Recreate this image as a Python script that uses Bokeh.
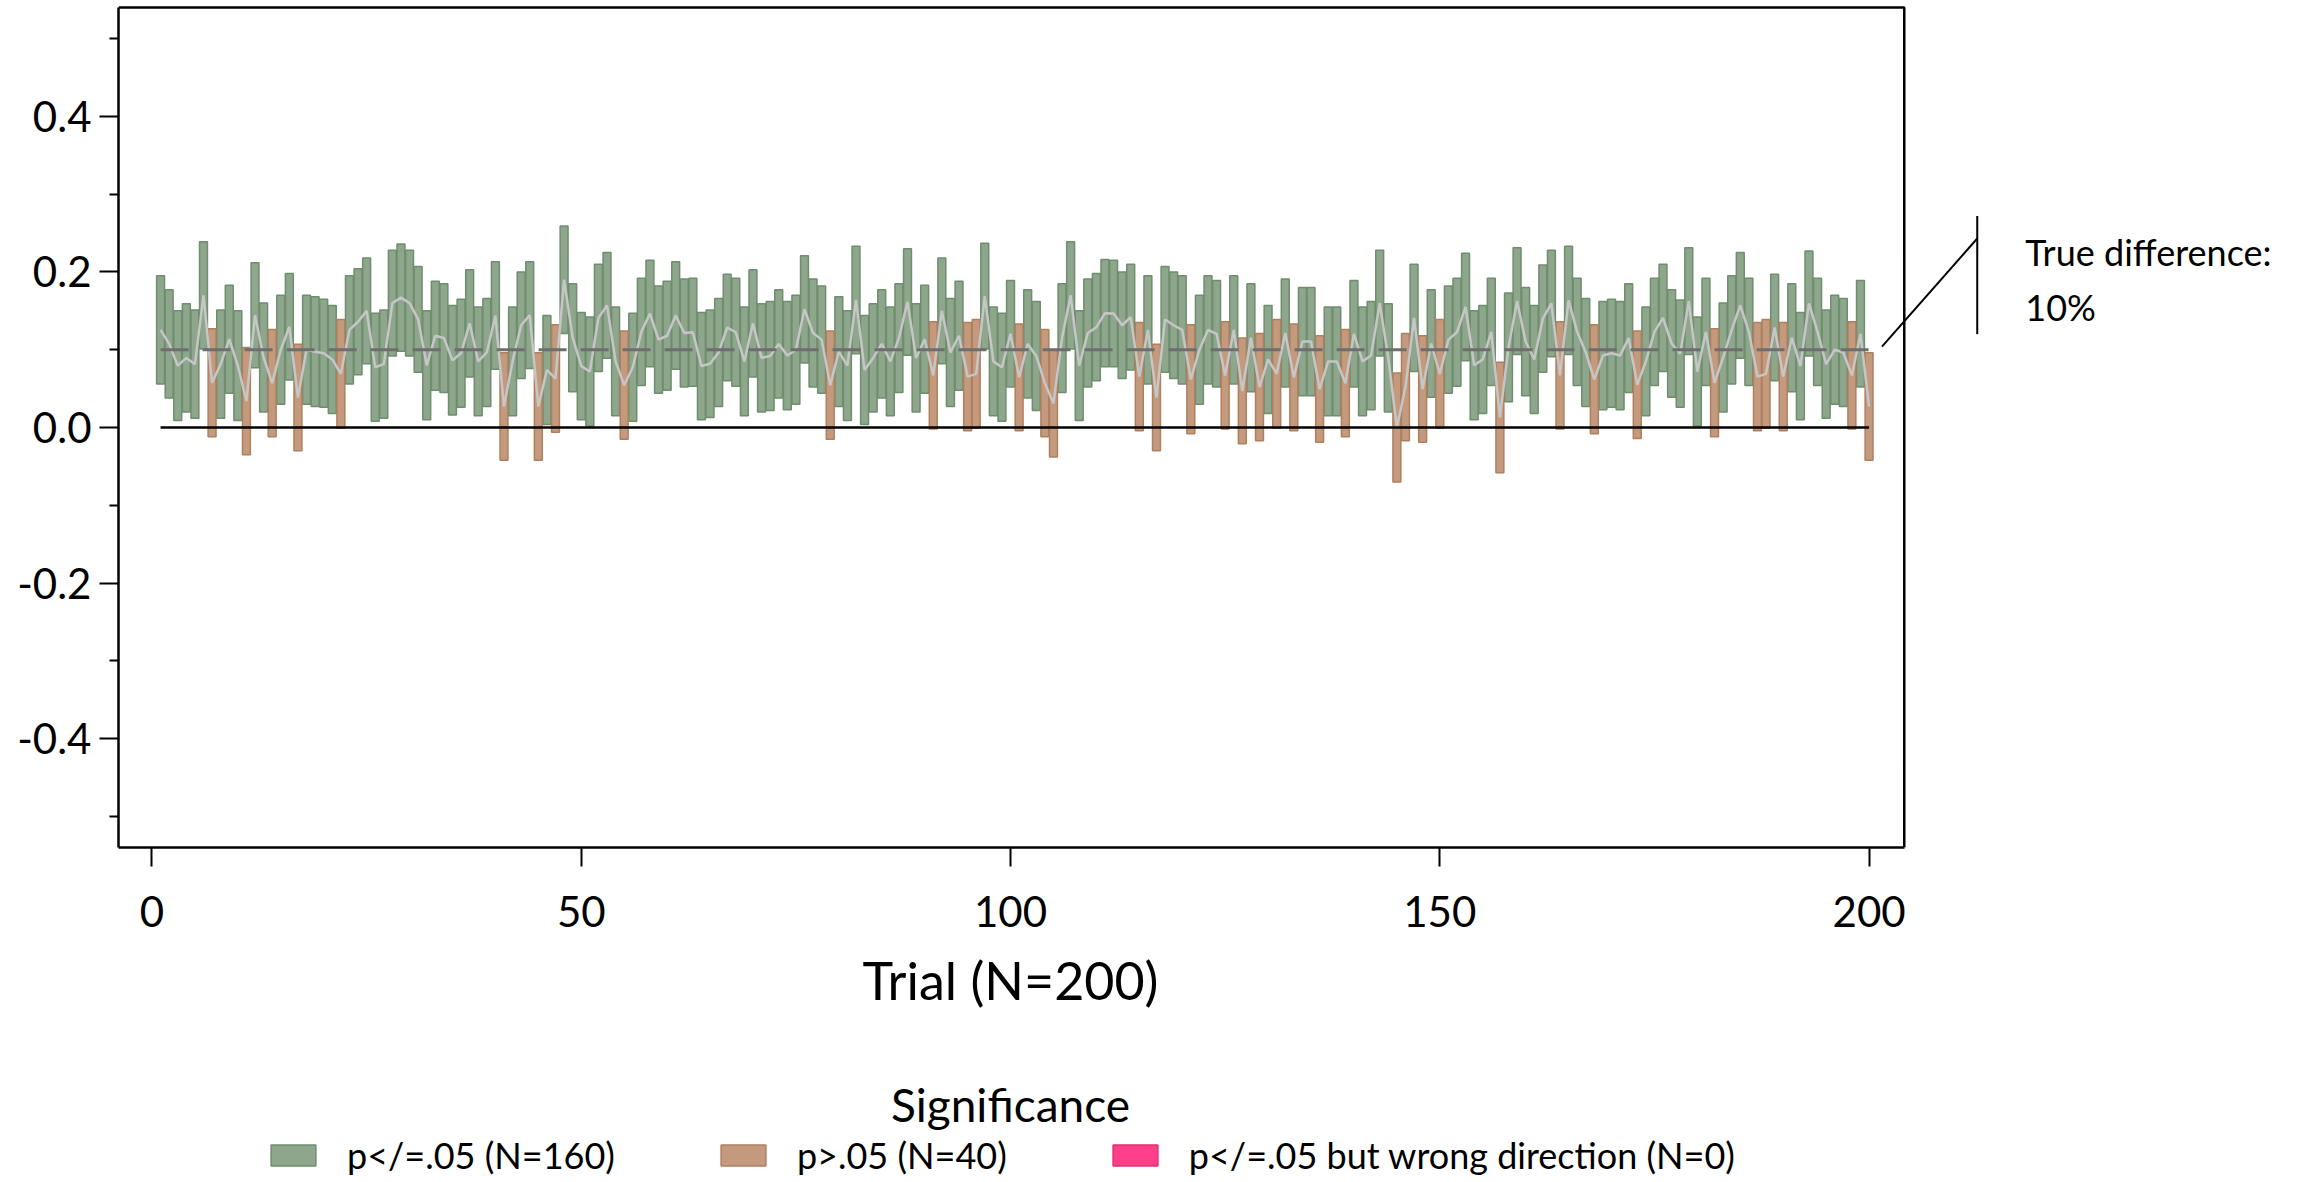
from bokeh.plotting import figure
from bokeh.models import (ColumnDataSource, FixedTicker, Label, Legend,
                          LegendItem, Range1d, PrintfTickFormatter)
from bokeh.layouts import column
from bokeh.embed import file_html
from bokeh.resources import INLINE
from bokeh.core.properties import value

TRUE_DIFF = 0.10
trial = list(range(1, 201))
ci_high = [
    0.195, 0.177, 0.150, 0.159, 0.151, 0.239, 0.127, 0.151, 0.183, 0.150,
    0.103, 0.212, 0.160, 0.126, 0.170, 0.198, 0.107, 0.170, 0.168, 0.165,
    0.157, 0.139, 0.195, 0.204, 0.218, 0.147, 0.151, 0.228, 0.236, 0.228,
    0.207, 0.150, 0.188, 0.185, 0.157, 0.165, 0.203, 0.155, 0.166, 0.213,
    0.096, 0.155, 0.200, 0.213, 0.096, 0.144, 0.132, 0.259, 0.185, 0.148,
    0.142, 0.210, 0.225, 0.155, 0.124, 0.147, 0.192, 0.215, 0.182, 0.188,
    0.213, 0.191, 0.192, 0.148, 0.151, 0.166, 0.197, 0.192, 0.155, 0.203,
    0.159, 0.162, 0.177, 0.162, 0.170, 0.221, 0.191, 0.182, 0.124, 0.168,
    0.150, 0.233, 0.144, 0.159, 0.177, 0.155, 0.185, 0.230, 0.159, 0.183,
    0.136, 0.218, 0.166, 0.188, 0.135, 0.139, 0.237, 0.155, 0.147, 0.189,
    0.133, 0.177, 0.162, 0.126, 0.100, 0.185, 0.239, 0.150, 0.191, 0.198,
    0.216, 0.215, 0.200, 0.210, 0.135, 0.195, 0.107, 0.207, 0.200, 0.195,
    0.132, 0.170, 0.195, 0.189, 0.136, 0.195, 0.115, 0.185, 0.121, 0.157,
    0.139, 0.191, 0.133, 0.180, 0.180, 0.118, 0.155, 0.155, 0.126, 0.189,
    0.155, 0.162, 0.228, 0.159, 0.070, 0.121, 0.210, 0.118, 0.177, 0.139,
    0.182, 0.192, 0.224, 0.150, 0.157, 0.192, 0.084, 0.173, 0.231, 0.180,
    0.157, 0.209, 0.228, 0.136, 0.233, 0.192, 0.166, 0.132, 0.162, 0.165,
    0.162, 0.185, 0.124, 0.155, 0.192, 0.210, 0.177, 0.164, 0.231, 0.142,
    0.192, 0.127, 0.160, 0.195, 0.225, 0.192, 0.135, 0.139, 0.197, 0.135,
    0.185, 0.148, 0.227, 0.192, 0.151, 0.170, 0.166, 0.136, 0.189, 0.096,
]
ci_low = [
    0.056, 0.038, 0.009, 0.020, 0.012, 0.101, -0.012, 0.012, 0.044, 0.009,
    -0.035, 0.077, 0.020, -0.012, 0.030, 0.061, -0.030, 0.030, 0.027, 0.026,
    0.018, -0.001, 0.056, 0.068, 0.082, 0.008, 0.012, 0.092, 0.098, 0.092,
    0.071, 0.010, 0.048, 0.045, 0.016, 0.026, 0.065, 0.015, 0.027, 0.075,
    -0.042, 0.015, 0.063, 0.076, -0.042, 0.004, -0.006, 0.121, 0.046, 0.010,
    0.002, 0.072, 0.089, 0.015, -0.015, 0.008, 0.054, 0.078, 0.044, 0.048,
    0.075, 0.052, 0.053, 0.010, 0.013, 0.027, 0.060, 0.053, 0.015, 0.065,
    0.020, 0.022, 0.038, 0.023, 0.030, 0.083, 0.052, 0.044, -0.015, 0.027,
    0.009, 0.095, 0.004, 0.020, 0.038, 0.015, 0.045, 0.093, 0.020, 0.044,
    -0.002, 0.082, 0.027, 0.048, -0.004, -0.001, 0.101, 0.015, 0.008, 0.052,
    -0.004, 0.038, 0.022, -0.012, -0.038, 0.045, 0.101, 0.009, 0.052, 0.060,
    0.078, 0.078, 0.063, 0.074, -0.004, 0.056, -0.030, 0.071, 0.063, 0.056,
    -0.008, 0.030, 0.056, 0.052, -0.002, 0.056, -0.021, 0.046, -0.017, 0.018,
    -0.001, 0.052, -0.004, 0.041, 0.041, -0.019, 0.015, 0.015, -0.012, 0.052,
    0.015, 0.023, 0.092, 0.020, -0.070, -0.017, 0.072, -0.019, 0.039, -0.001,
    0.044, 0.053, 0.086, 0.010, 0.018, 0.054, -0.058, 0.033, 0.094, 0.041,
    0.018, 0.071, 0.091, -0.002, 0.094, 0.054, 0.027, -0.008, 0.023, 0.026,
    0.023, 0.045, -0.014, 0.015, 0.054, 0.072, 0.039, 0.026, 0.094, 0.002,
    0.054, -0.012, 0.020, 0.056, 0.089, 0.054, -0.004, -0.001, 0.060, -0.004,
    0.046, 0.010, 0.092, 0.054, 0.012, 0.030, 0.027, -0.002, 0.052, -0.042,
]
x_ticks = [0, 50, 100, 150, 200]
y_ticks = [-0.4, -0.2, 0.0, 0.2, 0.4]
y_minor = [-0.5, -0.3, -0.1, 0.1, 0.3, 0.5]
cat_labels = ["p</=.05", "p>.05", "p</=.05 but wrong direction"]
cat_fill = ["#8DA68C", "#C49A7E", "#FF3F8A"]
cat_line = ["#6E8E6D", "#B07F5E", "#E0306F"]

FONT = "Lato"

# plot window (data units); the frame spans the whole width to the right so
# the side annotation can be drawn in data space
X0, X1, X_END = -3.9, 204.1, 251.3
Y_LIM, Y_PAD = 0.54, 0.0039


def category(lo, hi):
    if lo > 0:
        return 0
    if hi < 0:
        return 2
    return 1


cats = [category(l, h) for l, h in zip(ci_low, ci_high)]
counts = [cats.count(k) for k in range(3)]
mid = [(l + h) / 2 for l, h in zip(ci_low, ci_high)]
n = len(trial)

p = figure(width=2309, height=945, x_range=Range1d(X0, X_END),
           y_range=Range1d(-Y_LIM, Y_LIM + Y_PAD), output_backend="svg",
           toolbar_location=None, min_border_left=118, min_border_right=0,
           min_border_top=4, min_border_bottom=98)
p.grid.visible = False
p.outline_line_color = None
p.background_fill_color = "white"
p.border_fill_color = "white"

for k in range(3):
    idx = [i for i in range(n) if cats[i] == k]
    src = ColumnDataSource(dict(x=[trial[i] for i in idx],
                                lo=[ci_low[i] for i in idx],
                                hi=[ci_high[i] for i in idx]))
    p.vbar(x="x", bottom="lo", top="hi", width=0.92, source=src,
           fill_color=cat_fill[k], line_color=cat_line[k], line_width=1.5)

p.line(trial, mid, line_color="#C6C6C6", line_width=2.5)
p.line([trial[0], trial[-1]], [TRUE_DIFF, TRUE_DIFF], line_color="#6E6E6E",
       line_width=3, line_dash="28 14")
p.line([trial[0], trial[-1]], [0, 0], line_color="black", line_width=2.5)

# top and right edges of the plot box
p.line([X0, X1, X1], [Y_LIM, Y_LIM, -Y_LIM], line_color="black",
       line_width=2.5)

# axes
p.xaxis.ticker = FixedTicker(ticks=x_ticks, minor_ticks=[])
p.yaxis.ticker = FixedTicker(ticks=y_ticks, minor_ticks=y_minor)
p.yaxis.formatter = PrintfTickFormatter(format="%.1f")
p.xaxis.bounds = (X0, X1)
p.yaxis.bounds = (-Y_LIM, Y_LIM)
for ax in (p.xaxis, p.yaxis):
    ax.axis_line_width = 2.5
    ax.major_tick_line_width = 2
    ax.minor_tick_line_width = 2
    ax.major_tick_out = 19
    ax.major_tick_in = 0
    ax.minor_tick_out = 9
    ax.minor_tick_in = 0
    ax.major_label_text_font = FONT
    ax.major_label_text_font_size = "42px"
    ax.major_label_text_color = "black"
p.xaxis.major_label_standoff = 29
p.yaxis.major_label_standoff = 8

# annotation of the true difference
ax_x = n + 12.6
p.line([n + 1.5, ax_x], [TRUE_DIFF + 0.004, TRUE_DIFF + 0.143],
       line_color="black", line_width=2)
p.line([ax_x, ax_x], [TRUE_DIFF + 0.02, TRUE_DIFF + 0.172],
       line_color="black", line_width=2)
p.add_layout(Label(x=n + 18.2, y=TRUE_DIFF + 0.126, text="True difference:",
                   text_font=FONT, text_font_size="36px",
                   text_baseline="middle", text_color="black"))
p.add_layout(Label(x=n + 18.2, y=TRUE_DIFF + 0.055,
                   text=f"{int(round(TRUE_DIFF * 100))}%",
                   text_font=FONT, text_font_size="36px",
                   text_baseline="middle", text_color="black"))

# lower panel: x-axis title and legend
QH = 237
q = figure(width=2309, height=QH, x_range=Range1d(X0, X_END),
           y_range=Range1d(QH, 0), output_backend="svg",
           toolbar_location=None, x_axis_type=None, y_axis_type=None,
           min_border_left=118, min_border_right=0, min_border_top=0,
           min_border_bottom=0)
q.grid.visible = False
q.outline_line_color = None
mid_x = (x_ticks[0] + x_ticks[-1]) / 2
q.text(x=[mid_x], y=[34], text=[f"Trial (N={n})"], text_font=value(FONT),
       text_font_size="52px", text_align="center", text_baseline="middle",
       text_color="black")
q.text(x=[mid_x], y=[159], text=["Significance"], text_font=value(FONT),
       text_font_size="46px", text_align="center", text_baseline="middle",
       text_color="black")
items = []
nan = float("nan")
for k in range(3):
    r = q.vbar(x=[nan], top=[nan], bottom=[nan], width=1,
               fill_color=cat_fill[k], line_color=cat_line[k], line_width=1.5)
    items.append(LegendItem(label=f"{cat_labels[k]} (N={counts[k]})",
                            renderers=[r]))
leg = Legend(items=items, orientation="horizontal", location=(147, 5),
             glyph_width=56, glyph_height=26, label_standoff=26, spacing=100,
             padding=0, margin=0, border_line_color=None,
             background_fill_alpha=0, label_text_font=FONT,
             label_text_font_size="36px", label_text_color="black")
q.add_layout(leg)

layout = column(p, q, spacing=0)
open("out.html", "w").write(file_html(layout, INLINE))
